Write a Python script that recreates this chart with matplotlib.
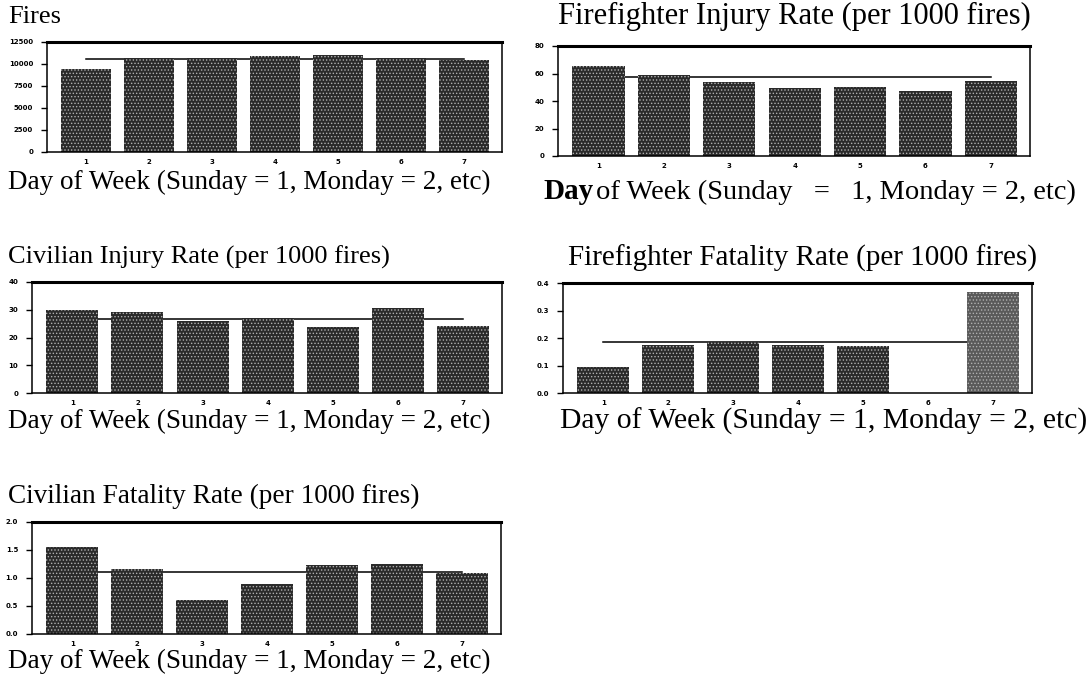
import matplotlib.pyplot as plt

# day-of-week fire statistics, Sunday = 1
days = [1, 2, 3, 4, 5, 6, 7]
day_labels = ['1', '2', '3', '4', '5', '6', '7']

fires = [9410, 10630, 10630, 10890, 11000, 10630, 10440]
fires_avg = 10600

ff_injury = [65.6, 58.9, 53.6, 49.5, 50.0, 47.1, 54.8]
ff_injury_avg = 57.2

civ_injury = [30.0, 29.2, 25.8, 27.0, 23.8, 30.7, 24.0]
civ_injury_avg = 26.6

ff_fatal = [0.095, 0.176, 0.184, 0.176, 0.172, 0.0, 0.367]
ff_fatal_avg = 0.184

civ_fatal = [1.556, 1.166, 0.61, 0.888, 1.225, 1.243, 1.083]
civ_fatal_avg = 1.107

W, H = 1090, 696
fig = plt.figure(figsize=(W / 100, H / 100), dpi=100)
serif = 'Liberation Serif'


def px_box(l, t, r, b):
    return [l / W, 1 - b / H, (r - l) / W, (b - t) / H]


def txt(x, y, s, size=19, **kw):
    fig.text(x / W, 1 - y / H, s, family=serif, fontsize=size,
             va='baseline', ha='left', **kw)


def panel(box, vals, avg, ylim, yticks, ylabels, colors=None):
    ax = fig.add_axes(px_box(*box))
    if colors is None:
        colors = ['#2a2a2a'] * len(vals)
    ax.plot([days[0], days[-1]], [avg, avg], color='black', lw=1.1, zorder=1)
    ax.bar(days, vals, width=0.8, color=colors, edgecolor='#b0b0b0',
           hatch='.....', linewidth=0, zorder=2)
    ax.set_xlim(0.38, 7.6)
    ax.set_ylim(*ylim)
    ax.set_yticks(yticks)
    ax.set_yticklabels(ylabels, fontsize=5, fontweight='bold')
    ax.set_xticks(days)
    ax.set_xticklabels(day_labels, fontsize=5, fontweight='bold')
    ax.tick_params(axis='y', length=4, width=1, pad=6)
    ax.tick_params(axis='x', length=0, pad=5)
    ax.spines['top'].set_linewidth(2.2)
    for s in ['left', 'right', 'bottom']:
        ax.spines[s].set_linewidth(1.1)
    return ax


plt.rcParams['hatch.linewidth'] = 0.6

panel((47, 42, 502, 152), fires, fires_avg, (0, 12500),
      [0, 2500, 5000, 7500, 10000, 12500], ['0', '2500', '5000', '7500', '10000', '12500'])
panel((558, 46, 1030, 156), ff_injury, ff_injury_avg, (0, 80),
      [0, 20, 40, 60, 80], ['0', '20', '40', '60', '80'])
panel((32, 282, 502, 393), civ_injury, civ_injury_avg, (0, 40),
      [0, 10, 20, 30, 40], ['0', '10', '20', '30', '40'])
ff_colors = ['#2a2a2a'] * 6 + ['#5a5a5a']
panel((563, 283, 1032, 393), ff_fatal, ff_fatal_avg, (0, 0.4),
      [0, 0.1, 0.2, 0.3, 0.4], ['0.0', '0.1', '0.2', '0.3', '0.4'], ff_colors)
panel((32, 522, 501, 634), civ_fatal, civ_fatal_avg, (0, 2.0),
      [0, 0.5, 1.0, 1.5, 2.0], ['0.0', '0.5', '1.0', '1.5', '2.0'])

xlab = 'Day of Week (Sunday = 1, Monday = 2, etc)'
txt(8, 23, 'Fires')
txt(8, 189, xlab, 19.5)
txt(558, 24, 'Firefighter Injury Rate (per 1000 fires)', 22)
txt(543, 199, 'Day', 21, fontweight='bold')
txt(596, 199, 'of Week (Sunday   =   1, Monday = 2, etc)', 20.5)
txt(8, 264, 'Civilian Injury Rate (per 1000 fires)')
txt(8, 428, xlab, 19.5)
txt(568, 266, 'Firefighter Fatality Rate (per 1000 fires)', 21)
txt(560, 429, xlab, 21.3)
txt(8, 503, 'Civilian Fatality Rate (per 1000 fires)', 19.6)
txt(8, 668, xlab, 19.5)

fig.savefig('out.png', dpi=100)
